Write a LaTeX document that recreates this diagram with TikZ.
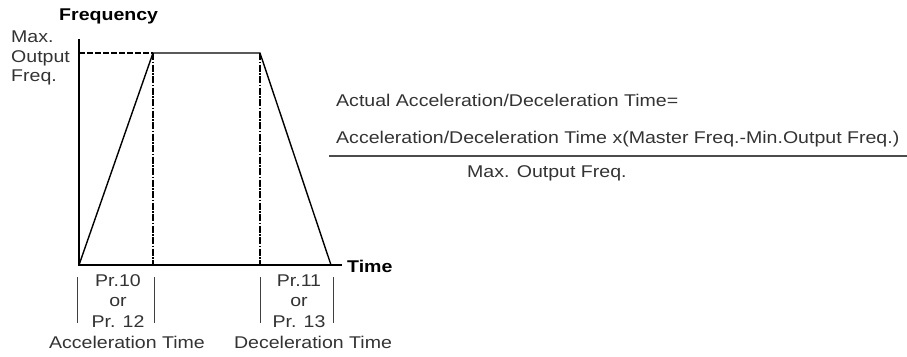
\documentclass[tikz,border=0pt]{standalone}
\usepackage{fontspec}
\setmainfont[FakeStretch=1.15]{Liberation Sans}
\usetikzlibrary{positioning}

\begin{document}
\begin{tikzpicture}[x=1pt,y=-1pt,
    lbl/.style={font=\fontsize{17}{19.5}\selectfont, text=black!80, inner sep=0pt},
    ttl/.style={font=\fontsize{17}{19.5}\selectfont\bfseries, inner sep=0pt},
    axis/.style={line width=1.3pt},
    ramp/.style={line width=1.4pt},
    maxline/.style={line width=2pt, dash pattern=on 6pt off 2pt},
    guide/.style={line width=2.2pt, dash pattern=on 7pt off 1.5pt on 1.5pt off 1.5pt},
    bar/.style={line width=0.9pt, black!75}]
    \useasboundingbox (0,0) rectangle (907,356);

    % Axes
    \coordinate (o) at (79,265);
    \coordinate (ytop) at (79,39);
    \coordinate (xend) at (342,265);
    \draw[axis] (ytop) -- (o) -- (xend);
    \node[ttl, anchor=base west] (freq) at (59,20) {Frequency};
    \node[ttl, anchor=base west] (time) at (347,272) {Time};
    \node[lbl, anchor=base west] (maxa) at (11,42) {Max.};
    \node[lbl, anchor=base west] (maxb) at (11,62) {Output};
    \node[lbl, anchor=base west] (maxc) at (11,81) {Freq.};

    % Frequency profile
    \coordinate (m) at (79,53);
    \coordinate (p1) at (153,53);
    \coordinate (p2) at (260,53);
    \coordinate (p3) at (331,265);
    \draw[maxline] (m) -- (p1);
    \draw[guide] (p1) -- (p1 |- o);
    \draw[guide] (p2) -- (p2 |- o);
    \draw[ramp, line join=miter] (o) -- (p1) -- (p2) -- (p3);

    % Acceleration / deceleration spans
    \foreach \x in {77,154,260,333}
        \draw[bar] (\x,277) -- (\x,323);
    \node[lbl, anchor=base] (acca) at (118,286) {Pr.10};
    \node[lbl, anchor=base] (accb) at (118,306) {or};
    \node[lbl, anchor=base] (accc) at (118,327) {Pr. 12};
    \node[lbl, anchor=base] (deca) at (299,286) {Pr.11};
    \node[lbl, anchor=base] (decb) at (299,306) {or};
    \node[lbl, anchor=base] (decc) at (299,327) {Pr. 13};
    \node[lbl, anchor=base] (acct) at (127,348) {Acceleration Time};
    \node[lbl, anchor=base] (dect) at (313,348) {Deceleration Time};

    % Formula
    \node[lbl, anchor=base west] (actual) at (336,106) {Actual Acceleration/Deceleration Time=};
    \node[lbl, anchor=base west] (num) at (336,143) {Acceleration/Deceleration Time x(Master Freq.-Min.Output Freq.)};
    \coordinate (rl) at (329,156);
    \coordinate (rr) at (907,156);
    \draw[line width=1.2pt, black!70] (rl) -- (rr);
    \node[lbl, anchor=base west] (den) at (467,177) {Max. Output Freq.};
\end{tikzpicture}
\end{document}
